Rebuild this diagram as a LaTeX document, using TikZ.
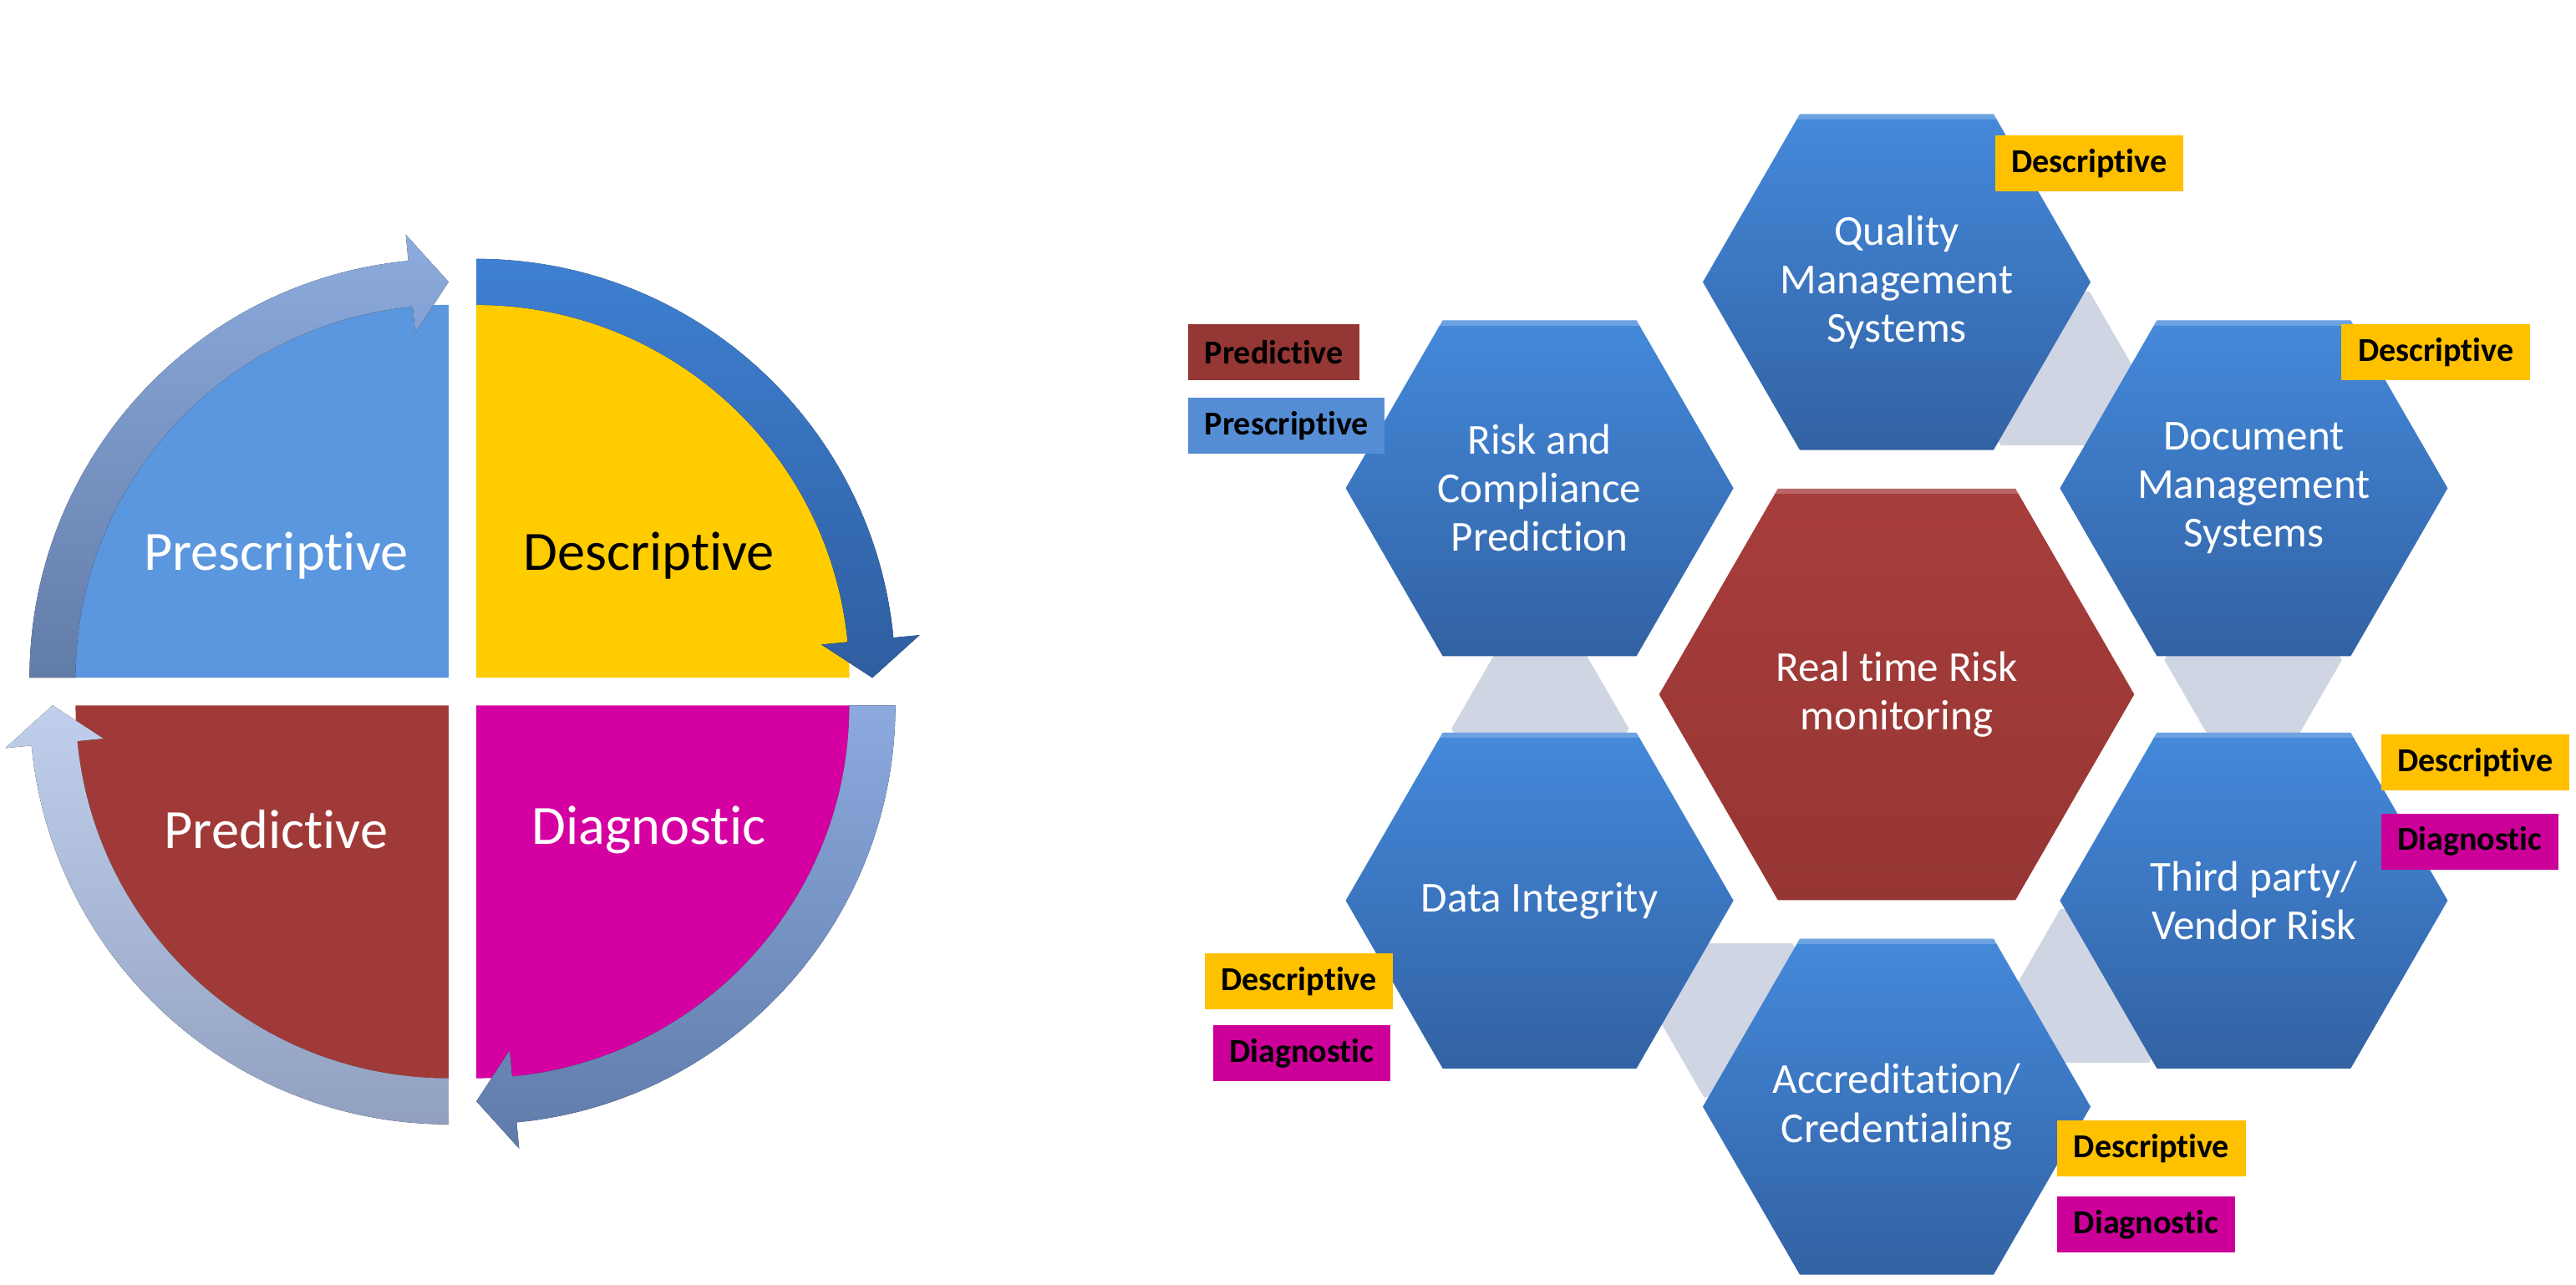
\documentclass[tikz,border=0pt]{standalone}
\usepackage{fontspec}
\setmainfont{Carlito}[Ligatures={NoCommon}]
\usetikzlibrary{shapes.geometric, calc}

\definecolor{prescblue}{RGB}{91,151,222}
\definecolor{descyellow}{RGB}{255,204,0}
\definecolor{predred}{RGB}{160,58,56}
\definecolor{diagpink}{RGB}{213,0,161}
\definecolor{tagyellow}{RGB}{255,192,0}
\definecolor{tagred}{RGB}{149,55,53}
\definecolor{tagblue}{RGB}{85,142,213}
\definecolor{tagpink}{RGB}{204,0,153}
\definecolor{hextop}{RGB}{68,137,219}
\definecolor{hexbot}{RGB}{50,98,163}
\definecolor{hubtop}{RGB}{166,61,59}
\definecolor{hubbot}{RGB}{150,54,52}
\definecolor{linkgrey}{RGB}{207,213,227}
\definecolor{arrnwtop}{RGB}{141,171,222}
\definecolor{arrnwbot}{RGB}{98,124,168}
\definecolor{arrnetop}{RGB}{62,128,210}
\definecolor{arrnebot}{RGB}{47,94,160}
\definecolor{arrsetop}{RGB}{140,170,222}
\definecolor{arrsebot}{RGB}{95,123,170}
\definecolor{arrswtop}{RGB}{192,208,236}
\definecolor{arrswbot}{RGB}{145,160,192}

\tikzset{
  quadtxt/.style = {font=\fontsize{24}{28}\selectfont, inner sep=0pt},
  hexa/.style    = {regular polygon, regular polygon sides=6, minimum size=59mm,
                    inner sep=-15pt, outer sep=0pt, top color=hextop, bottom color=hexbot,
                    text=white, align=center, font=\fontsize{18.5}{21}\selectfont,
                    path picture={\fill[white, opacity=0.22]
                      (path picture bounding box.north west) rectangle
                      ([yshift=-0.8mm]path picture bounding box.north east);}},
  hub/.style     = {hexa, minimum size=72.3mm, top color=hubtop, bottom color=hubbot},
  link/.style    = {regular polygon, regular polygon sides=6, minimum size=27mm,
                    inner sep=0pt, fill=linkgrey},
  tag/.style     = {anchor=north west, minimum height=8.5mm, inner xsep=2.5mm,
                    inner ysep=0pt, font=\bfseries\fontsize{14.5}{16}\selectfont},
}

\begin{document}
\begin{tikzpicture}[x=0.25mm, y=0.25mm]
  \fill[white] (0,0) rectangle (1568,782);
  \useasboundingbox (0,0) rectangle (1568,782);

  % analytics cycle
  \begin{scope}[shift={(273,369.4)}]
    \fill[prescblue] (0,0) -- (180:227) arc[start angle=180, end angle=90, radius=227] -- cycle;
    \fill[top color=arrnwtop, bottom color=arrnwbot] (180:227) -- (180:255)
      arc[start angle=180, end angle=95.5, radius=255] -- (95.5:271) -- (90:241)
      -- (95.5:211) -- (95.5:227) arc[start angle=95.5, end angle=180, radius=227] -- cycle;
  \end{scope}
  \begin{scope}[shift={(290,369.4)}]
    \fill[descyellow] (0,0) -- (90:227) arc[start angle=90, end angle=0, radius=227] -- cycle;
    \fill[top color=arrnetop, bottom color=arrnebot] (90:227) -- (90:255)
      arc[start angle=90, end angle=5.5, radius=255] -- (5.5:271) -- (0:241)
      -- (5.5:211) -- (5.5:227) arc[start angle=5.5, end angle=90, radius=227] -- cycle;
  \end{scope}
  \begin{scope}[shift={(290,352.6)}]
    \fill[diagpink] (0,0) -- (0:227) arc[start angle=0, end angle=-90, radius=227] -- cycle;
    \fill[top color=arrsetop, bottom color=arrsebot] (0:227) -- (0:255)
      arc[start angle=0, end angle=-84.5, radius=255] -- (-84.5:271) -- (-90:241)
      -- (-84.5:211) -- (-84.5:227) arc[start angle=-84.5, end angle=0, radius=227] -- cycle;
  \end{scope}
  \begin{scope}[shift={(273,352.6)}]
    \fill[predred] (0,0) -- (-90:227) arc[start angle=-90, end angle=-180, radius=227] -- cycle;
    \fill[top color=arrswtop, bottom color=arrswbot] (-90:227) -- (-90:255)
      arc[start angle=-90, end angle=-174.5, radius=255] -- (-174.5:271) -- (-180:241)
      -- (-174.5:211) -- (-174.5:227) arc[start angle=-174.5, end angle=-90, radius=227] -- cycle;
  \end{scope}

  \node[quadtxt, text=white] (presc) at (168,444) {Prescriptive};
  \node[quadtxt, text=black] (desc) at (395,444) {Descriptive};
  \node[quadtxt, text=white] (pred) at (168,277) {Predictive};
  \node[quadtxt, text=white] (diag) at (395,277) {Diagnostic};

  % hexagon cluster
  \coordinate (hubc) at (1154.5,359.3);
  \foreach \a [count=\i] in {65.5, 5.5, -54.5, -114.5, 185.5}
    \node[link] (link\i) at ($(hubc)+(\a:218)$) {};

  \node[hub] (rt) at (hubc) {Real time Risk\\monitoring};
  \node[hexa] (qms) at ($(hubc)+(90:251)$) {Quality\\Management\\Systems};
  \node[hexa] (dms) at ($(hubc)+(30:251)$) {Document\\Management\\Systems};
  \node[hexa] (vendor) at ($(hubc)+(-30:251)$) {Third party/\\Vendor Risk};
  \node[hexa] (accr) at ($(hubc)+(-90:251)$) {Accreditation/\\Credentialing};
  \node[hexa] (integ) at ($(hubc)+(210:251)$) {Data Integrity};
  \node[hexa] (risk) at ($(hubc)+(150:251)$) {Risk and\\Compliance\\Prediction};

  % tags
  \node[tag, fill=tagyellow] (qmsdesc) at (1214,700) {Descriptive};
  \node[tag, fill=tagyellow] (dmsdesc) at (1425,585) {Descriptive};
  \node[tag, fill=tagred] (riskpred) at (723,585) {Predictive};
  \node[tag, fill=tagblue] (riskpresc) at (723,540) {Prescriptive};
  \node[tag, fill=tagyellow] (vendordesc) at (1449,335) {Descriptive};
  \node[tag, fill=tagpink] (vendordiag) at (1449,287) {Diagnostic};
  \node[tag, fill=tagyellow] (integdesc) at (733,202) {Descriptive};
  \node[tag, fill=tagpink] (integdiag) at (738,158) {Diagnostic};
  \node[tag, fill=tagyellow] (accrdesc) at (1252,100) {Descriptive};
  \node[tag, fill=tagpink] (accrdiag) at (1252,54) {Diagnostic};
\end{tikzpicture}
\end{document}
